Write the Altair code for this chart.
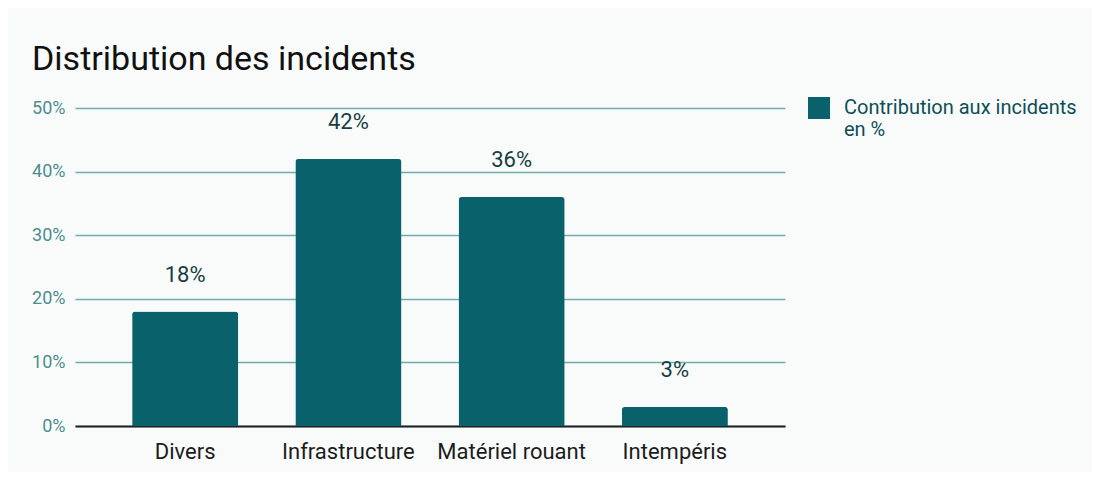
import altair as alt
import pandas as pd

categories = ["Divers", "Infrastructure", "Matériel rouant", "Intempéris"]
values = [18, 42, 36, 3]
value_labels = ["18%", "42%", "36%", "3%"]
series_name = "Contribution aux incidents en %"
y_ticks = [0, 10, 20, 30, 40, 50]

df = pd.DataFrame({
    "cat": categories,
    "val": values,
    "lab": value_labels,
    "series": [series_name] * len(categories),
})

FONT = "Roboto"
BAR = "#09616b"

x_enc = alt.X(
    "cat:N", sort=categories, title=None,
    scale=alt.Scale(paddingInner=0.35, paddingOuter=0.35),
    axis=alt.Axis(labelAngle=0, labelFont=FONT, labelFontSize=22, labelColor="#1c1c1c",
                  ticks=False, domain=True, domainColor="#222222", domainWidth=2,
                  labelPadding=15, grid=False),
)
y_enc = alt.Y(
    "val:Q", title=None,
    scale=alt.Scale(domain=[0, 50]),
    axis=alt.Axis(values=y_ticks, labelExpr="datum.value + '%'", labelFont=FONT,
                  labelFontSize=18, labelColor="#4a8e90", ticks=False, domain=False,
                  labelPadding=10, grid=True, gridColor="#70acae", gridWidth=1.5),
)

bars = alt.Chart(df).mark_bar(cornerRadiusTopLeft=3, cornerRadiusTopRight=3).encode(
    x=x_enc, y=y_enc,
    color=alt.Color("series:N", title=None,
                    scale=alt.Scale(range=[BAR]),
                    legend=alt.Legend(orient="none", legendX=733, legendY=-11,
                                      symbolType="square", symbolSize=484,
                                      symbolStrokeWidth=0, symbolFillColor=BAR,
                                      labelFont=FONT, labelFontSize=20, labelColor="#0d4f55",
                                      labelLimit=400, labelOffset=14, padding=0,
                                      labelExpr="['Contribution aux incidents', 'en %']",
                                      labelBaseline="middle")),
)

text = alt.Chart(df).mark_text(dy=-37, baseline="middle", font=FONT, fontSize=22,
                               color="#173f42").encode(
    x=alt.X("cat:N", sort=categories),
    y=alt.Y("val:Q"),
    text="lab:N",
)

chart = (bars + text).properties(
    width=710, height=318,
    title=alt.TitleParams("Distribution des incidents", anchor="start", font=FONT,
                          fontSize=34, fontWeight="normal", color="#111111",
                          dx=-43, offset=20, frame="group"),
    autosize=alt.AutoSizeParams(type="none"),
    padding={"left": 67, "top": 100, "right": 307, "bottom": 46},
    background="#f9fbfb",
).configure_view(stroke=None)

chart.save("out.html", embed_options={"renderer": "svg", "actions": False})
